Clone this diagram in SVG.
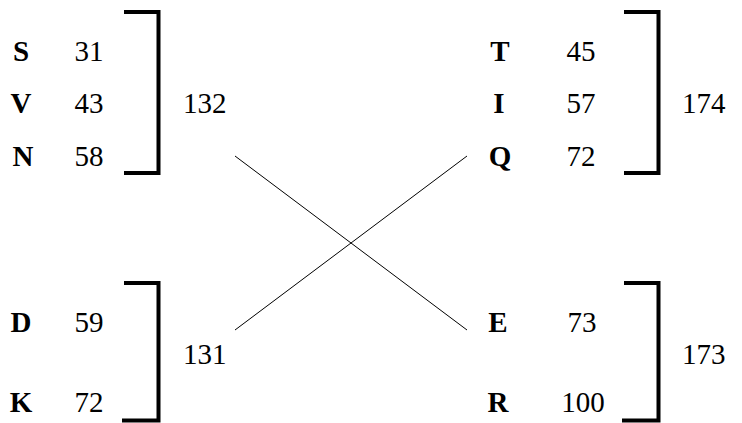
<svg xmlns="http://www.w3.org/2000/svg" width="742" height="423" viewBox="0 0 742 423" font-family="Liberation Serif, Times New Roman, serif">
<style>
text{font-size:29px;fill:#000}
.b{font-weight:bold;text-anchor:middle}
.n{text-anchor:middle}
.br{fill:none;stroke:#000;stroke-width:4}
.c{stroke:#000;stroke-width:1;fill:none}
</style>
<rect width="742" height="423" fill="#fff"/>
<g id="group-top-left">
<path class="br" d="M124 12H158.5V173H124"/>
<text class="b" x="21" y="61">S</text><text class="n" x="89" y="61">31</text>
<text class="b" x="21" y="113">V</text><text class="n" x="89" y="113">43</text>
<text class="b" x="23" y="166">N</text><text class="n" x="89" y="166">58</text>
<text x="183" y="113">132</text>
</g>
<g id="group-top-right">
<path class="br" d="M624 12H658.5V173H624"/>
<text class="b" x="500" y="61">T</text><text class="n" x="581" y="61">45</text>
<text class="b" x="499" y="113">I</text><text class="n" x="581" y="113">57</text>
<text class="b" x="500" y="166">Q</text><text class="n" x="581" y="166">72</text>
<text x="682" y="113">174</text>
</g>
<g id="group-bottom-left">
<path class="br" d="M124 283H158.5V420.5H122"/>
<text class="b" x="21" y="332">D</text><text class="n" x="89" y="332">59</text>
<text class="b" x="21" y="412">K</text><text class="n" x="89" y="412">72</text>
<text x="183" y="364">131</text>
</g>
<g id="group-bottom-right">
<path class="br" d="M624 283H658.5V420.5H622"/>
<text class="b" x="498" y="332">E</text><text class="n" x="582" y="332">73</text>
<text class="b" x="498" y="412">R</text><text class="n" x="583" y="412">100</text>
<text x="682" y="364">173</text>
</g>
<g id="connectors">
<line class="c" x1="235" y1="156" x2="467" y2="330"/>
<line class="c" x1="235" y1="330" x2="467" y2="156"/>
</g>
</svg>
